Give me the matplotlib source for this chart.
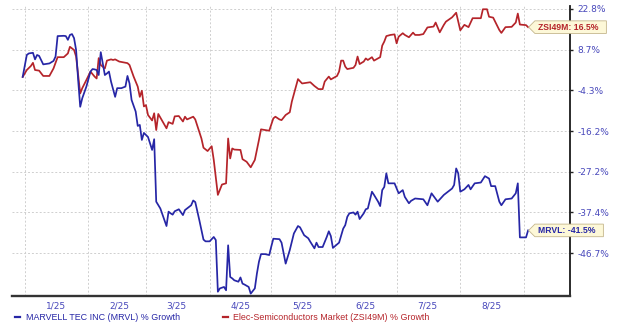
import numpy as np
import pandas as pd
import matplotlib
matplotlib.use('Agg')
import matplotlib.pyplot as plt
import matplotlib.dates as mdates
from matplotlib.path import Path
from matplotlib.lines import Line2D
from matplotlib.ticker import NullFormatter, FixedLocator, FuncFormatter

# ---- data (percent growth since 12/31/24) ----
mrvl_dates = [
    '2024-12-31', '2025-01-02', '2025-01-03', '2025-01-05', '2025-01-06', '2025-01-07', '2025-01-08',
    '2025-01-10', '2025-01-13', '2025-01-15', '2025-01-16', '2025-01-17', '2025-01-20', '2025-01-21',
    '2025-01-22', '2025-01-23', '2025-01-24', '2025-01-25', '2025-01-26', '2025-01-27', '2025-01-28',
    '2025-01-29', '2025-01-31', '2025-02-02', '2025-02-03', '2025-02-04', '2025-02-05', '2025-02-06',
    '2025-02-07', '2025-02-09', '2025-02-10', '2025-02-11', '2025-02-12', '2025-02-14', '2025-02-15',
    '2025-02-17', '2025-02-19', '2025-02-20', '2025-02-21', '2025-02-22', '2025-02-24', '2025-02-25',
    '2025-02-26', '2025-02-27', '2025-02-28', '2025-03-02', '2025-03-04', '2025-03-05', '2025-03-06',
    '2025-03-08', '2025-03-11', '2025-03-12', '2025-03-13', '2025-03-14', '2025-03-15', '2025-03-17',
    '2025-03-19', '2025-03-20', '2025-03-21', '2025-03-23', '2025-03-24', '2025-03-25', '2025-03-27',
    '2025-03-29', '2025-03-30', '2025-04-01', '2025-04-03', '2025-04-04', '2025-04-05', '2025-04-06',
    '2025-04-08', '2025-04-09', '2025-04-10', '2025-04-11', '2025-04-12', '2025-04-13', '2025-04-15',
    '2025-04-16', '2025-04-17', '2025-04-18', '2025-04-20', '2025-04-21', '2025-04-23', '2025-04-24',
    '2025-04-25', '2025-04-26', '2025-04-28', '2025-04-30', '2025-05-01', '2025-05-02', '2025-05-05',
    '2025-05-06', '2025-05-08', '2025-05-10', '2025-05-12', '2025-05-14', '2025-05-15', '2025-05-17',
    '2025-05-19', '2025-05-20', '2025-05-22', '2025-05-23', '2025-05-24', '2025-05-26', '2025-05-28',
    '2025-05-29', '2025-05-30', '2025-05-31', '2025-06-01', '2025-06-03', '2025-06-05', '2025-06-06',
    '2025-06-07', '2025-06-08', '2025-06-10', '2025-06-11', '2025-06-12', '2025-06-13', '2025-06-15',
    '2025-06-16', '2025-06-17', '2025-06-19', '2025-06-20', '2025-06-22', '2025-06-23', '2025-06-24',
    '2025-06-25', '2025-06-26', '2025-06-27', '2025-06-30', '2025-07-02', '2025-07-04', '2025-07-05',
    '2025-07-07', '2025-07-08', '2025-07-10', '2025-07-14', '2025-07-16', '2025-07-18', '2025-07-21',
    '2025-07-24', '2025-07-28', '2025-07-29', '2025-07-30', '2025-07-31', '2025-08-01', '2025-08-03',
    '2025-08-05', '2025-08-06', '2025-08-08', '2025-08-11', '2025-08-13', '2025-08-15', '2025-08-16',
    '2025-08-18', '2025-08-20', '2025-08-21', '2025-08-23', '2025-08-26', '2025-08-28', '2025-08-29',
    '2025-08-30', '2025-09-02', '2025-09-03',
]
mrvl_vals = [
    0.0, 7.0, 7.5, 7.7, 5.6, 7.0, 6.7,
    4.0, 4.3, 5.1, 6.5, 13.4, 13.5, 13.4,
    12.1, 13.8, 14.1, 12.7, 8.6, -1.0, -9.1,
    -6.6, -3.1, 1.7, 2.5, 2.4, 2.2, 0.6,
    7.9, 0.6, 1.1, 1.7, -1.5, -6.2, -3.6,
    -3.6, -3.1, 0.3, -2.1, -7.1, -10.5, -14.7,
    -14.4, -18.6, -16.7, -17.8, -21.3, -18.4, -34.7,
    -36.4, -40.5, -37.2, -37.6, -37.9, -37.1, -36.6,
    -38.0, -36.8, -36.4, -35.6, -34.4, -34.8, -39.2,
    -43.6, -44.0, -44.0, -43.0, -43.7, -54.8, -54.1,
    -53.8, -54.5, -44.9, -51.7, -52.0, -52.4, -52.7,
    -51.8, -53.1, -53.3, -53.8, -55.2, -54.1, -51.0,
    -48.5, -46.9, -46.9, -47.1, -45.2, -43.4, -43.5,
    -44.3, -48.9, -46.0, -42.2, -40.5, -40.8, -42.6,
    -43.3, -44.1, -45.6, -44.3, -45.3, -45.3, -43.0,
    -41.7, -42.8, -45.5, -45.1, -44.3, -41.1, -40.3,
    -38.4, -37.6, -37.4, -37.9, -37.2, -38.9, -37.6,
    -36.6, -36.4, -32.2, -33.0, -34.7, -35.8, -31.8,
    -31.0, -27.6, -30.1, -30.1, -32.6, -31.8, -33.5,
    -35.1, -34.5, -33.9, -34.1, -35.6, -32.6, -34.7,
    -33.0, -31.4, -30.5, -26.3, -27.6, -32.2, -31.6,
    -30.5, -31.6, -30.1, -29.9, -28.3, -28.9, -30.8,
    -30.8, -34.7, -35.6, -34.1, -33.9, -32.6, -30.1,
    -43.1, -43.1, -41.5,
]

zsi_dates = [
    '2024-12-31', '2025-01-02', '2025-01-04', '2025-01-05', '2025-01-06', '2025-01-08', '2025-01-10',
    '2025-01-13', '2025-01-15', '2025-01-17', '2025-01-20', '2025-01-22', '2025-01-23', '2025-01-25',
    '2025-01-26', '2025-01-28', '2025-01-29', '2025-01-31', '2025-02-02', '2025-02-04', '2025-02-05',
    '2025-02-06', '2025-02-07', '2025-02-09', '2025-02-10', '2025-02-12', '2025-02-13', '2025-02-14',
    '2025-02-16', '2025-02-20', '2025-02-21', '2025-02-23', '2025-02-25', '2025-02-26', '2025-02-27',
    '2025-02-28', '2025-03-01', '2025-03-02', '2025-03-04', '2025-03-05', '2025-03-06', '2025-03-07',
    '2025-03-09', '2025-03-11', '2025-03-12', '2025-03-14', '2025-03-15', '2025-03-17', '2025-03-19',
    '2025-03-20', '2025-03-21', '2025-03-24', '2025-03-25', '2025-03-28', '2025-03-29', '2025-03-31',
    '2025-04-02', '2025-04-03', '2025-04-05', '2025-04-07', '2025-04-09', '2025-04-10', '2025-04-11',
    '2025-04-12', '2025-04-13', '2025-04-16', '2025-04-17', '2025-04-19', '2025-04-21', '2025-04-23',
    '2025-04-25', '2025-04-26', '2025-04-28', '2025-04-30', '2025-05-02', '2025-05-03', '2025-05-05',
    '2025-05-06', '2025-05-08', '2025-05-10', '2025-05-11', '2025-05-13', '2025-05-14', '2025-05-16',
    '2025-05-20', '2025-05-22', '2025-05-24', '2025-05-26', '2025-05-27', '2025-05-29', '2025-05-30',
    '2025-06-02', '2025-06-03', '2025-06-04', '2025-06-05', '2025-06-06', '2025-06-07', '2025-06-10',
    '2025-06-11', '2025-06-12', '2025-06-13', '2025-06-15', '2025-06-16', '2025-06-17', '2025-06-19',
    '2025-06-20', '2025-06-23', '2025-06-24', '2025-06-25', '2025-06-26', '2025-06-28', '2025-06-30',
    '2025-07-01', '2025-07-02', '2025-07-04', '2025-07-05', '2025-07-07', '2025-07-08', '2025-07-09',
    '2025-07-10', '2025-07-12', '2025-07-14', '2025-07-16', '2025-07-19', '2025-07-20', '2025-07-22',
    '2025-07-24', '2025-07-25', '2025-07-28', '2025-07-30', '2025-08-01', '2025-08-03', '2025-08-05',
    '2025-08-07', '2025-08-11', '2025-08-12', '2025-08-14', '2025-08-15', '2025-08-17', '2025-08-20',
    '2025-08-21', '2025-08-23', '2025-08-26', '2025-08-28', '2025-08-29', '2025-08-30', '2025-09-02',
    '2025-09-03',
]
zsi_vals = [
    0.0, 2.2, 3.5, 4.5, 2.2, 2.0, 0.3,
    0.3, 2.7, 6.3, 6.3, 7.5, 9.7, 8.6,
    6.5, -5.2, -3.6, -1.0, 1.7, 0.1, -0.5,
    6.0, 3.8, 2.7, 5.2, 5.6, 5.4, 5.6,
    4.9, 4.4, 3.8, 0.1, -3.1, -6.2, -4.4,
    -9.0, -8.6, -11.5, -13.1, -11.0, -15.9, -11.2,
    -13.3, -15.4, -13.6, -14.1, -11.9, -11.8, -13.4,
    -12.0, -12.8, -12.0, -12.8, -18.2, -20.7, -21.6,
    -20.3, -24.0, -33.0, -30.4, -30.1, -18.2, -23.6,
    -20.9, -21.2, -21.3, -23.8, -24.5, -26.0, -24.0,
    -18.6, -15.7, -15.9, -16.1, -12.5, -12.0, -12.8,
    -13.0, -11.5, -10.7, -7.6, -3.1, -0.7, -2.1,
    -1.7, -2.9, -3.9, -3.9, -1.5, 0.1, -0.8,
    0.3, 1.7, 5.2, 5.2, 3.3, 2.5, 2.9,
    3.8, 6.5, 4.1, 4.9, 5.9, 5.4, 6.3,
    5.2, 6.3, 10.1, 11.5, 13.4, 13.8, 14.0,
    10.9, 13.2, 14.4, 13.8, 13.0, 13.8, 14.6,
    13.8, 13.8, 14.1, 16.4, 16.7, 18.1, 14.7,
    17.3, 18.4, 19.9, 21.5, 15.4, 17.3, 16.5,
    19.6, 19.6, 22.7, 22.7, 20.1, 19.8, 15.5,
    14.5, 16.5, 16.6, 18.1, 21.2, 17.4, 17.2,
    16.5,
]

y_ticks = [-46.7, -37.4, -27.2, -16.2, -4.3, 8.7, 22.8]
month_labels = ['1/25', '2/25', '3/25', '4/25', '5/25', '6/25', '7/25', '8/25']

mrvl_name = 'MARVELL TEC INC (MRVL) % Growth'
zsi_name = 'Elec-Semiconductors Market (ZSI49M) % Growth'

BLUE = '#2626a6'
RED = '#b5242a'
TICK_COL = '#4848bb'


# the chart spaces its y ticks evenly although the values are not
def y_fwd(v):
    v = np.asarray(v, dtype=float)
    idx = np.arange(len(y_ticks), dtype=float)
    out = np.interp(v, y_ticks, idx)
    out = np.where(v < y_ticks[0], (v - y_ticks[0]) / 8.55, out)
    out = np.where(v > y_ticks[-1], idx[-1] + (v - y_ticks[-1]) / 14.1, out)
    return out


def y_inv(u):
    u = np.asarray(u, dtype=float)
    idx = np.arange(len(y_ticks), dtype=float)
    out = np.interp(u, idx, y_ticks)
    out = np.where(u < 0, y_ticks[0] + u * 8.55, out)
    out = np.where(u > idx[-1], y_ticks[-1] + (u - idx[-1]) * 14.1, out)
    return out


def tag_box(x0, y0, width, height, mutation_size):
    pad_l, pad_r, pad_y = 3.0, 8.0, 1.8
    x0 -= pad_l
    x1 = x0 + width + pad_l + pad_r
    y0 -= pad_y
    y1 = y0 + height + 2 * pad_y
    notch = (y1 - y0) / 2
    verts = [(x0 - notch, (y0 + y1) / 2), (x0, y0), (x1, y0), (x1, y1), (x0, y1),
             (x0 - notch, (y0 + y1) / 2)]
    codes = [Path.MOVETO] + [Path.LINETO] * 4 + [Path.CLOSEPOLY]
    return Path(verts, codes)


mrvl = pd.Series(mrvl_vals, index=pd.to_datetime(mrvl_dates))
zsi = pd.Series(zsi_vals, index=pd.to_datetime(zsi_dates))

fig = plt.figure(figsize=(6.2, 3.29), dpi=100)
ax = fig.add_axes([12 / 620, 1 - 296 / 329, 558 / 620, 290.5 / 329])

ax.plot(zsi.index, zsi.values, color=RED, lw=1.25, zorder=3)
ax.plot(mrvl.index, mrvl.values, color=BLUE, lw=1.25, zorder=3)

ax.set_yscale('function', functions=(y_fwd, y_inv))
ax.set_ylim(-55.7, 24.0)
jan1 = mdates.date2num(pd.Timestamp('2025-01-01'))
sep1 = mdates.date2num(pd.Timestamp('2025-09-01'))
ax.set_xlim(jan1 - 6.2, sep1 + 22.4)

ax.yaxis.tick_right()
ax.set_yticks(y_ticks)
ax.set_yticklabels([f'{v}%' for v in y_ticks])
ax.yaxis.set_minor_locator(FixedLocator([]))

ax.xaxis.set_major_locator(mdates.MonthLocator())
ax.xaxis.set_major_formatter(NullFormatter())
mid_months = [mdates.date2num(pd.Timestamp(2025, m, 16)) for m in range(1, 9)]
ax.xaxis.set_minor_locator(FixedLocator(mid_months))
ax.xaxis.set_minor_formatter(FuncFormatter(lambda x, p: month_labels[p] if p is not None and p < len(month_labels) else ''))

ax.grid(True, which='major', color='#cfcfcf', linestyle=(0, (2, 2)), lw=0.7)
ax.set_axisbelow(True)

ax.tick_params(axis='x', which='both', length=0, labelsize=6.5, labelcolor=TICK_COL, pad=4)
ax.tick_params(axis='y', which='major', direction='out', length=2.3, width=1, color='#222222',
               labelsize=6.5, labelcolor=TICK_COL, pad=3.3)
for lab in ax.get_xticklabels(minor=True) + ax.get_yticklabels():
    lab.set_family('DejaVu Sans')

for s in ['left', 'top']:
    ax.spines[s].set_visible(False)
ax.spines['bottom'].set_color('#333333')
ax.spines['bottom'].set_linewidth(1.7)
ax.spines['right'].set_color('#1a1a1a')
ax.spines['right'].set_linewidth(1.3)

# end-of-line value tags
for ser, name, col in [(zsi, 'ZSI49M', RED), (mrvl, 'MRVL', BLUE)]:
    last_d, last_v = ser.index[-1], ser.values[-1]
    ax.annotate(f'{name}: {last_v:.1f}%', xy=(last_d, last_v), xytext=(9.8, 0),
                textcoords='offset pixels', ha='left', va='center',
                fontsize=6.2, fontweight='bold', color=col, family='Liberation Sans',
                bbox=dict(boxstyle=tag_box, fc='#fdf8d8', ec='#c4b68c', lw=0.6),
                annotation_clip=False, zorder=6)

# legend under the axis
ly = 1 - 317 / 329
for x0, x1, tx, name, col in [(15, 20, 26, mrvl_name, BLUE), (223, 228, 233, zsi_name, RED)]:
    fig.add_artist(Line2D([x0 / 620, x1 / 620], [ly, ly], transform=fig.transFigure,
                          color=col, lw=1.6))
    fig.text(tx / 620, ly, name, va='center', ha='left', fontsize=6.4,
             family='Liberation Sans', color=col)

fig.savefig('out.png', dpi=100, facecolor='white')
